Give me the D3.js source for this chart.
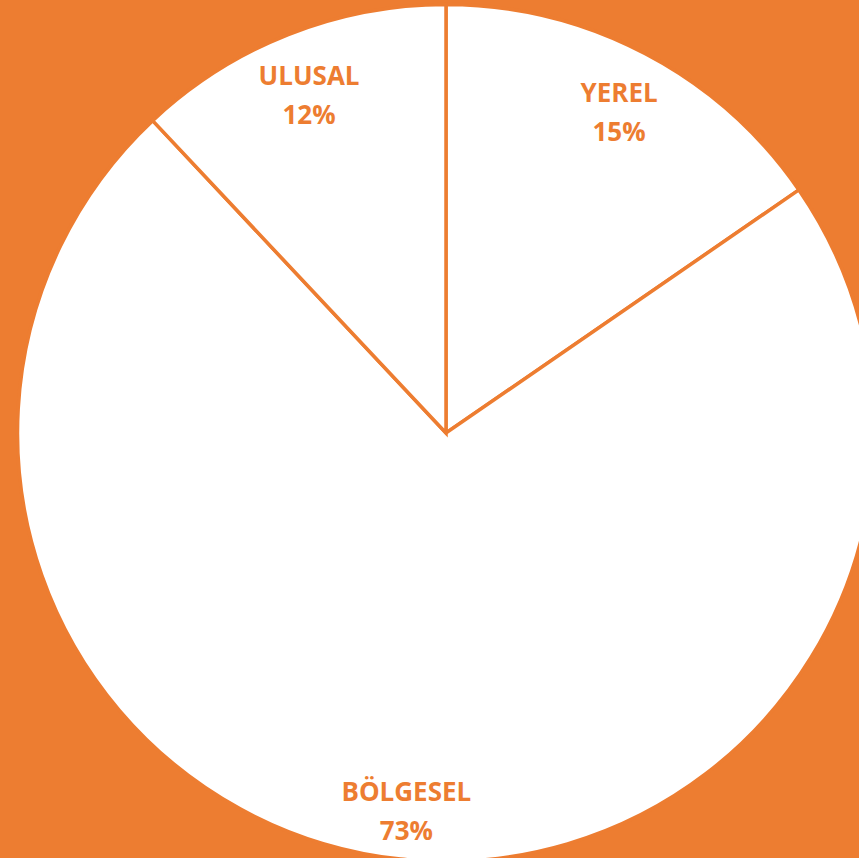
<!DOCTYPE html>
<html>
<head>
<meta charset="utf-8">
<script src="https://cdn.jsdelivr.net/npm/d3@7"></script>
<style>
  html, body { margin: 0; padding: 0; background: #ED7D31; }
  svg { display: block; }
</style>
</head>
<body>
<svg id="chart" width="859" height="858"></svg>
<script>
const categories = ["YEREL", "BÖLGESEL", "ULUSAL"];
const values = [15.4, 72.6, 12.0];
const percentLabels = ["15%", "73%", "12%"];

const W = 859, H = 858;
const cx = 446, cy = 433, R = 428.5, labelR = 372;
const orange = "#ED7D31";

const svg = d3.select("#chart");
svg.append("rect").attr("width", W).attr("height", H).attr("fill", orange);

const data = categories.map((c, i) => ({ cat: c, value: values[i], pct: percentLabels[i] }));
const pie = d3.pie().value(d => d.value).sort(null).startAngle(0).endAngle(2 * Math.PI);
const arcs = pie(data);
const arc = d3.arc().innerRadius(0).outerRadius(R);
const labelArc = d3.arc().innerRadius(labelR).outerRadius(labelR);

const g = svg.append("g").attr("transform", `translate(${cx},${cy})`);
g.selectAll("path.slice").data(arcs).enter().append("path")
  .attr("class", "slice")
  .attr("d", arc)
  .attr("fill", "#ffffff")
  .attr("stroke", orange)
  .attr("stroke-width", 3.5)
  .attr("stroke-linejoin", "miter");

const lbl = g.selectAll("g.lbl").data(arcs).enter().append("g")
  .attr("class", "lbl")
  .attr("transform", d => { const [x, y] = labelArc.centroid(d); return `translate(${x},${y})`; });

lbl.append("text")
  .attr("text-anchor", "middle")
  .attr("y", -2)
  .attr("font-family", "'Open Sans', sans-serif")
  .attr("font-weight", 700)
  .attr("font-size", 26)
  .attr("fill", orange)
  .text(d => d.data.cat);
lbl.append("text")
  .attr("text-anchor", "middle")
  .attr("y", 37)
  .attr("font-family", "'Open Sans', sans-serif")
  .attr("font-weight", 700)
  .attr("font-size", 26)
  .attr("fill", orange)
  .text(d => d.data.pct);
</script>
</body>
</html>
